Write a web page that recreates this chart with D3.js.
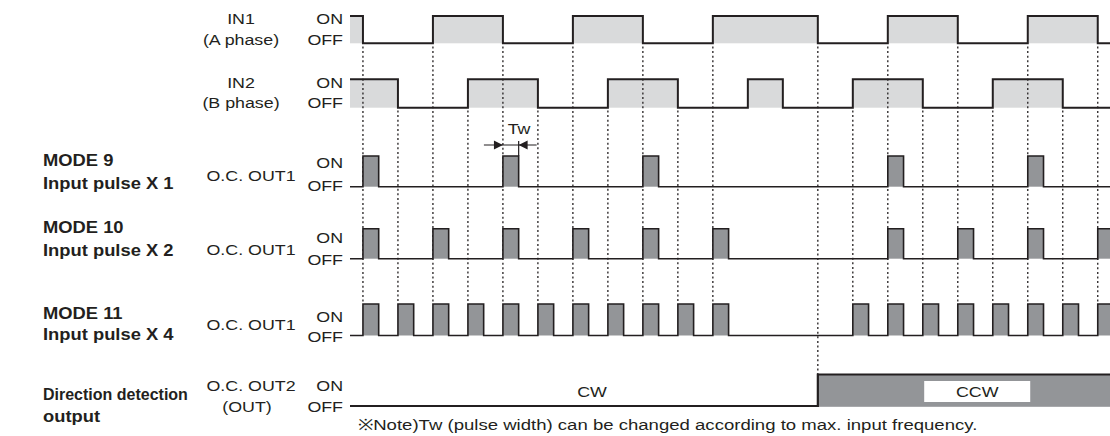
<!DOCTYPE html>
<html>
<head>
<meta charset="utf-8">
<script src="https://cdn.jsdelivr.net/npm/d3@7"></script>
<style>
  html, body { margin: 0; padding: 0; background: #fff; }
  svg { display: block; }
</style>
</head>
<body>
<svg id="chart" width="1110" height="436"></svg>
<script>
// step index of every signal edge that gets a dotted guide
const edgesA = [0, 2, 4, 6, 8, 10, 13, 15, 17, 19, 21];
const edgesB = [1, 3, 5, 7, 9, 14, 16, 18, 20];

// ON intervals of the inputs (in steps)
const in1High = [[-0.37, 0], [2, 4], [6, 8], [10, 13], [15, 17], [19, 21]];
const in2High = [[-0.37, 1], [3, 5], [7, 9], [11, 12], [14, 16], [18, 20]];

// output pulses start at these steps
const mode9Pulses = [0, 4, 8, 15, 19];
const mode10Pulses = [0, 2, 4, 6, 8, 10, 15, 17, 19, 21];
const mode11Pulses = [0, 1, 2, 3, 4, 5, 6, 7, 8, 9, 10, 14, 15, 16, 17, 18, 19, 20, 21];
const pulseWidth = 0.45;          // Tw, in steps
const dirChangeStep = 13;         // CW -> CCW

const modeTitles = ['MODE 9', 'MODE 10', 'MODE 11'];
const modeSubs = ['Input pulse X 1', 'Input pulse X 2', 'Input pulse X 4'];
const dirLabels = ['CW', 'CCW'];
const noteText = '\u203BNote)Tw (pulse width) can be changed according to max. input frequency.';

const INK = '#231f20', LIGHT = '#d9dadb', MID = '#939598';
const FONT = '"Liberation Sans", Arial, Helvetica, sans-serif';

const svg = d3.select('#chart');
const X0 = -0.37, X1 = 21.35;
const x = d3.scaleLinear().domain([X0, X1]).range([350, 1110]);

// each row gets its own 0/1 -> y scale
const rowY = (on, off) => d3.scaleLinear().domain([0, 1]).range([off, on]);
const yIn1 = rowY(16, 43.3);
const yIn2 = rowY(79.3, 107.7);
const yM9 = rowY(156, 186.7);
const yM10 = rowY(228.7, 258.7);
const yM11 = rowY(304, 335.5);
const yDir = rowY(374.5, 406);

const line = d3.line().x(d => x(d[0])).y(d => d[1]);

function wavePts(intervals, y) {
  const pts = [];
  if (intervals[0][0] > X0) pts.push([X0, y(0)]);
  intervals.forEach(([s, e]) => {
    if (s <= X0) pts.push([X0, y(1)]);
    else { pts.push([s, y(0)]); pts.push([s, y(1)]); }
    pts.push([e, y(1)]); pts.push([e, y(0)]);
  });
  pts.push([X1, y(0)]);
  return pts;
}

function drawRow(intervals, y, fill, sw) {
  const g = svg.append('g');
  g.selectAll('rect').data(intervals).join('rect')
    .attr('x', d => x(d[0])).attr('y', y(1))
    .attr('width', d => x(d[1]) - x(d[0])).attr('height', y(0) - y(1))
    .attr('fill', fill);
  g.append('path').attr('d', line(wavePts(intervals, y)))
    .attr('fill', 'none').attr('stroke', INK).attr('stroke-width', sw)
    .attr('stroke-linejoin', 'miter');
  return g;
}

// text is a bit wider than Arial in the original, so stretch it horizontally
function label(px, capY, str, opt = {}) {
  const fs = opt.size || 15.5;
  const t = svg.append('text')
    .attr('text-anchor', opt.anchor || 'start')
    .attr('font-family', FONT).attr('font-size', fs)
    .attr('font-weight', opt.bold ? 'bold' : 'normal')
    .attr('fill', INK)
    .text(str);
  let sx = opt.sx || 1.15;
  if (opt.width) sx = opt.width / t.node().getComputedTextLength();
  t.attr('transform', `translate(${px},${capY + fs * 0.36}) scale(${sx},1)`);
}

// input rows (fills under the dotted guides)
drawRow(in1High, yIn1, LIGHT, 2);
drawRow(in2High, yIn2, LIGHT, 2);

// dotted guides
const guides = edgesA.map(k => ({ k, y1: 46.5, y2: k === dirChangeStep ? 374 : 302 }))
  .concat(edgesB.map(k => ({ k, y1: 110.5, y2: 302 })));
svg.append('g').selectAll('line').data(guides).join('line')
  .attr('x1', d => x(d.k)).attr('x2', d => x(d.k))
  .attr('y1', d => d.y1).attr('y2', d => d.y2)
  .attr('stroke', INK).attr('stroke-width', 1.3)
  .attr('stroke-dasharray', '2,2.6');

// output rows
const toIv = ks => ks.map(k => [k, k + pulseWidth]);
drawRow(toIv(mode9Pulses), yM9, MID, 1.6);
drawRow(toIv(mode10Pulses), yM10, MID, 1.6);
drawRow(toIv(mode11Pulses), yM11, MID, 1.6);

// direction detection output
svg.append('rect')
  .attr('x', x(dirChangeStep)).attr('y', yDir(1))
  .attr('width', x(X1) - x(dirChangeStep)).attr('height', yDir(0) - yDir(1) + 0.8)
  .attr('fill', MID);
svg.append('path')
  .attr('d', line([[X0, yDir(0)], [dirChangeStep, yDir(0)], [dirChangeStep, yDir(1)], [X1, yDir(1)]]))
  .attr('fill', 'none').attr('stroke', INK).attr('stroke-width', 2.2);
const boxS = 16.04, boxE = 19.07;
svg.append('rect')
  .attr('x', x(boxS)).attr('y', 381).attr('width', x(boxE) - x(boxS)).attr('height', 21)
  .attr('fill', '#fff');
label(592, 391, dirLabels[0], { anchor: 'middle' });
label((x(boxS) + x(boxE)) / 2, 391, dirLabels[1], { anchor: 'middle' });

// Tw annotation
const tw0 = x(4), tw1 = x(4 + pulseWidth), twY = 145;
svg.append('line').attr('x1', tw0 - 19).attr('x2', tw1 + 18).attr('y1', twY).attr('y2', twY)
  .attr('stroke', INK).attr('stroke-width', 1.2);
svg.append('line').attr('x1', tw1).attr('x2', tw1).attr('y1', twY - 4).attr('y2', yM9(1))
  .attr('stroke', INK).attr('stroke-width', 1.2);
svg.append('path').attr('d', `M${tw0},${twY} l-9,-4.5 v9 z`).attr('fill', INK);
svg.append('path').attr('d', `M${tw1},${twY} l9,-4.5 v9 z`).attr('fill', INK);
label(519, 128, 'Tw', { anchor: 'middle' });

// left labels
label(241, 18.5, 'IN1', { anchor: 'middle' });
label(241, 39, '(A phase)', { anchor: 'middle' });
label(241, 82, 'IN2', { anchor: 'middle' });
label(241, 102.5, '(B phase)', { anchor: 'middle' });

const onOff = [[18.8, 39], [82, 102.5], [162.5, 185.3], [237, 259.3], [316.7, 336.7], [385.7, 406]];
onOff.forEach(([a, b]) => {
  label(343, a, 'ON', { anchor: 'end' });
  label(343, b, 'OFF', { anchor: 'end' });
});

const modeY = [[159.5, 183], [227.3, 250], [313.3, 334.3]];
const outY = [175.5, 249.3, 324.7];
modeY.forEach(([a, b], i) => {
  label(43, a, modeTitles[i], { bold: true, size: 17, sx: 1.08 });
  label(43, b, modeSubs[i], { bold: true, size: 17, sx: 1.08 });
  label(251, outY[i], 'O.C. OUT1', { anchor: 'middle' });
});

label(43, 394.3, 'Direction detection', { bold: true, size: 17, width: 145 });
label(43, 416, 'output', { bold: true, size: 17, sx: 1.08 });
label(251, 385.7, 'O.C. OUT2', { anchor: 'middle' });
label(247, 406.3, '(OUT)', { anchor: 'middle' });

label(358, 424, noteText, { size: 15.5, width: 620 });
</script>
</body>
</html>
